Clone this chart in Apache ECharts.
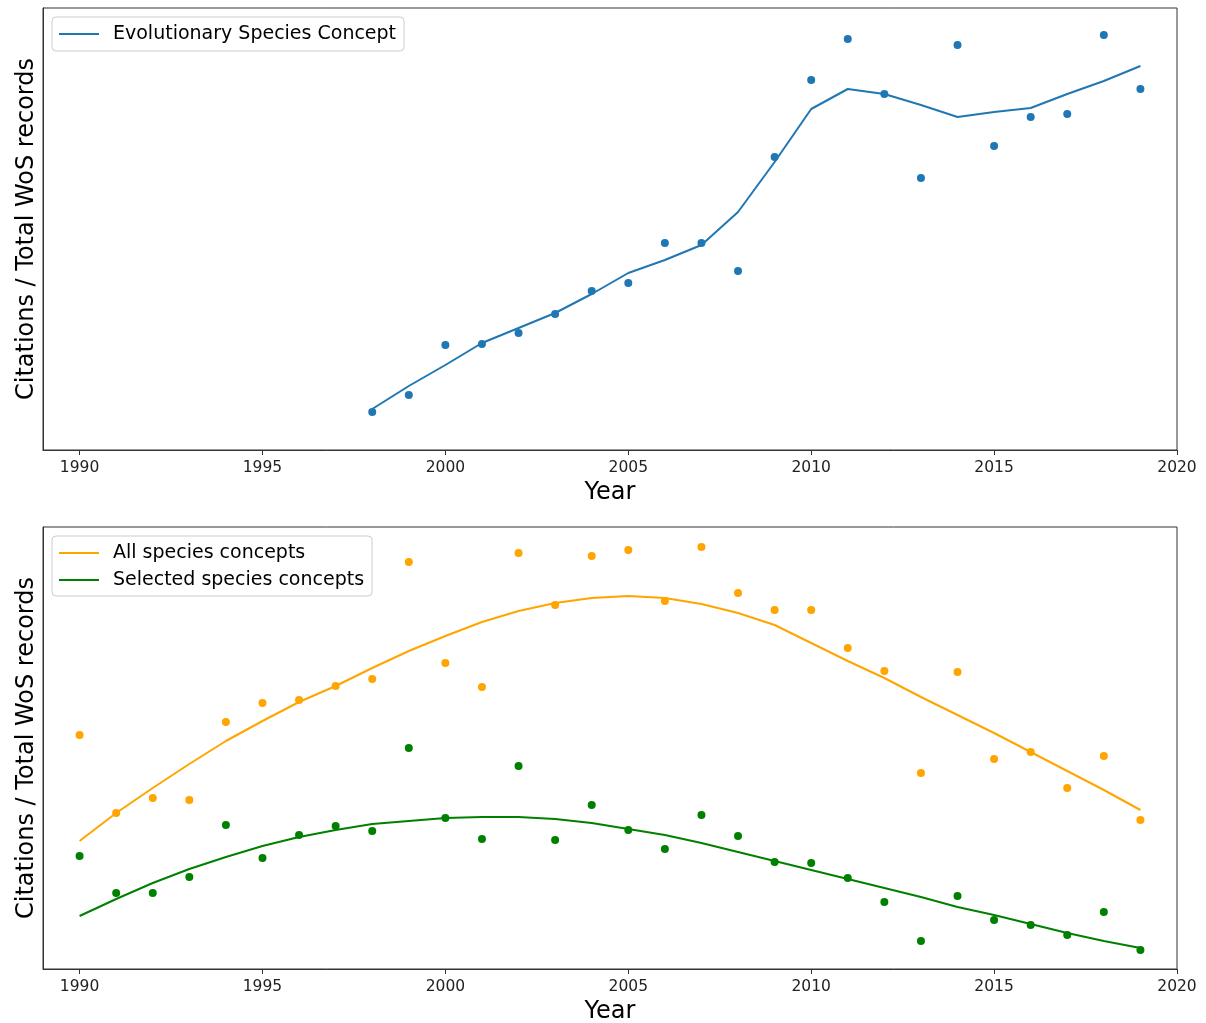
<!DOCTYPE html>
<html>
<head>
<meta charset="utf-8">
<script src="https://cdn.jsdelivr.net/npm/echarts@6/dist/echarts.min.js"></script>
<style>
html,body{margin:0;padding:0;background:#fff;}
#chart{width:1206px;height:1023px;}
</style>
</head>
<body>
<div id="chart"></div>
<script>
// Years
const yearsTop = [1998,1999,2000,2001,2002,2003,2004,2005,2006,2007,2008,2009,2010,2011,2012,2013,2014,2015,2016,2017,2018,2019];
const yearsBottom = [1990,1991,1992,1993,1994,1995,1996,1997,1998,1999,2000,2001,2002,2003,2004,2005,2006,2007,2008,2009,2010,2011,2012,2013,2014,2015,2016,2017,2018,2019];
const xTicks = [1990,1995,2000,2005,2010,2015,2020];

// Top panel (relative units, y axis has no tick labels)
const escPoints = [38,55,105,106,117,136,159,167,207,207,179,293,370,411,356,272,405,304,333,336,415,361];
const escTrend  = [41,64,85,107,122,137,156,177,190,205,238,288,341,361,356,345,333,338,342,356,369,384];

// Bottom panel
const allPoints = [234,156,171,169,247,266,269,283,290,407,306,282,416,364,413,419,368,422,376,359,359,321,298,196,297,210,217,181,213,149];
const allTrend  = [128,156,181,205,228,248,267,283,301,318,333,347,358,366,371,373,371,365,356,344,326,308,291,272,254,236,217,198,179,159];
const selPoints = [113,76,76,92,144,111,134,143,138,221,151,130,203,129,164,139,120,154,133,107,106,91,67,28,73,49,44,34,57,19];
const selTrend  = [53,70,86,100,112,123,132,139,145,148,151,152,152,150,146,140,134,126,117,108,99,90,81,72,62,54,45,36,28,21];

const FONT = 'DejaVu Sans';
const pair = (xs, ys) => xs.map((x, i) => [x, ys[i]]);

function xAxisCfg(gi) {
  return {
    gridIndex: gi, type: 'value', min: 1989, max: 2020,
    name: 'Year', nameLocation: 'middle', nameGap: 31,
    nameTextStyle: {fontFamily: FONT, fontSize: 24, color: '#000'},
    axisLine: {show: true, lineStyle: {color: '#333', width: 1}},
    axisTick: {show: true, length: 5, customValues: xTicks, lineStyle: {color: '#333'}},
    axisLabel: {customValues: xTicks, formatter: v => String(v), fontFamily: FONT, fontSize: 15.5, color: '#222', margin: 10},
    splitLine: {show: false}
  };
}
function yAxisCfg(gi) {
  return {
    gridIndex: gi, type: 'value', min: 0, max: 442,
    name: 'Citations / Total WoS records', nameLocation: 'middle', nameGap: 4,
    nameTextStyle: {fontFamily: FONT, fontSize: 24, color: '#000'},
    axisLine: {show: true, lineStyle: {color: '#333', width: 1}},
    axisTick: {show: false}, axisLabel: {show: false}, splitLine: {show: false}
  };
}
const legendBase = {
  orient: 'vertical', left: 52, icon: 'rect', itemWidth: 40, itemHeight: 2,
  backgroundColor: 'rgba(255,255,255,0.8)', borderColor: '#cccccc', borderWidth: 1, borderRadius: 4,
  textStyle: {fontFamily: FONT, fontSize: 19, color: '#000', lineHeight: 20, padding: [0,0,0,9]}
};

const chart = echarts.init(document.getElementById('chart'), null, {renderer: 'canvas'});
chart.setOption({
  animation: false,
  backgroundColor: '#fff',
  grid: [
    {left: 43, right: 29, top: 8, height: 442, outerBoundsMode: 'none', containLabel: false, show: true, borderColor: '#333', borderWidth: 1, backgroundColor: 'transparent'},
    {left: 43, right: 29, top: 527, height: 442, outerBoundsMode: 'none', containLabel: false, show: true, borderColor: '#333', borderWidth: 1, backgroundColor: 'transparent'}
  ],
  xAxis: [xAxisCfg(0), xAxisCfg(1)],
  yAxis: [yAxisCfg(0), yAxisCfg(1)],
  legend: [
    Object.assign({}, legendBase, {top: 17, padding: [7,8,7,7], itemGap: 8, data: ['Evolutionary Species Concept']}),
    Object.assign({}, legendBase, {top: 536, padding: [7,8,6,7], itemGap: 7, data: ['All species concepts', 'Selected species concepts']})
  ],
  series: [
    {name: 'Evolutionary Species Concept', type: 'line', xAxisIndex: 0, yAxisIndex: 0, data: pair(yearsTop, escTrend),
     showSymbol: false, lineStyle: {color: '#1f77b4', width: 2}, itemStyle: {color: '#1f77b4'}, z: 2},
    {name: 'ESC data', type: 'scatter', xAxisIndex: 0, yAxisIndex: 0, data: pair(yearsTop, escPoints),
     symbolSize: 8, itemStyle: {color: '#1f77b4', opacity: 1}, z: 3},
    {name: 'All species concepts', type: 'line', xAxisIndex: 1, yAxisIndex: 1, data: pair(yearsBottom, allTrend),
     showSymbol: false, lineStyle: {color: '#ffa500', width: 2}, itemStyle: {color: '#ffa500'}, z: 2},
    {name: 'All data', type: 'scatter', xAxisIndex: 1, yAxisIndex: 1, data: pair(yearsBottom, allPoints),
     symbolSize: 8, itemStyle: {color: '#ffa500', opacity: 1}, z: 3},
    {name: 'Selected species concepts', type: 'line', xAxisIndex: 1, yAxisIndex: 1, data: pair(yearsBottom, selTrend),
     showSymbol: false, lineStyle: {color: '#008000', width: 2}, itemStyle: {color: '#008000'}, z: 2},
    {name: 'Selected data', type: 'scatter', xAxisIndex: 1, yAxisIndex: 1, data: pair(yearsBottom, selPoints),
     symbolSize: 8, itemStyle: {color: '#008000', opacity: 1}, z: 3}
  ]
});
</script>
</body>
</html>
